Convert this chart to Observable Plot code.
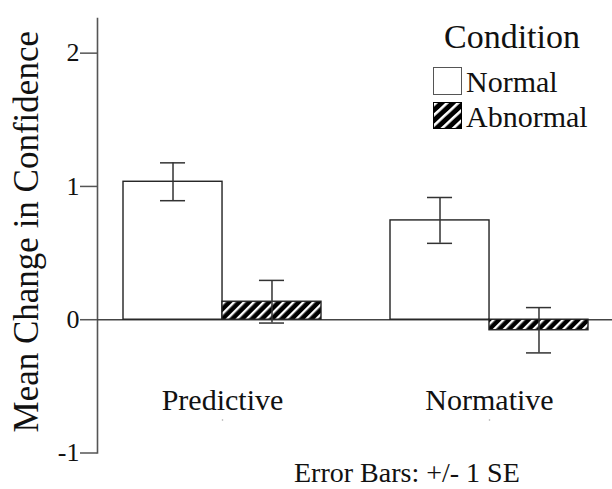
<!DOCTYPE html>
<html><head><meta charset="utf-8">
<script src="https://cdn.jsdelivr.net/npm/d3@7"></script>
<script src="https://cdn.jsdelivr.net/npm/@observablehq/plot@0.6"></script>
<style>
body{margin:0;background:#fff;}
#wrap{position:relative;width:612px;height:489px;font-family:"Liberation Serif","Times New Roman",Times,"DejaVu Serif",serif;color:#111;}
#chart{position:absolute;left:0;top:0;}
.abs{position:absolute;line-height:1;white-space:nowrap;}
#ltitle{left:412px;top:19.5px;width:200px;text-align:center;font-size:34px;}
.sw{position:absolute;left:433px;width:29px;box-sizing:border-box;}
#sw1{top:67px;height:28px;border:1.5px solid #555;background:#fff;}
#sw2{top:102px;height:27px;border:1.5px solid #000;}
.lt{font-size:30px;left:466px;}
#caption{left:294px;top:460px;font-size:28px;line-height:26px;}
</style></head><body>
<svg width="0" height="0" style="position:absolute"><defs>
<pattern id="hatch" patternUnits="userSpaceOnUse" width="7" height="7" patternTransform="rotate(45)">
<rect width="7" height="7" fill="#000"/><rect width="2.4" height="7" fill="#fff"/></pattern></defs></svg>
<div id="wrap">
  <div id="chart"></div>
  <div class="abs" id="ltitle"></div>
  <div class="sw" id="sw1"></div>
  <svg class="sw" id="sw2" viewBox="0 0 24 24" preserveAspectRatio="none"><rect width="24" height="24" fill="url(#hatch)"/></svg>
  <div class="abs lt" id="lt1" style="top:67px"></div>
  <div class="abs lt" id="lt2" style="top:102px"></div>
  <div class="abs" id="caption"></div>
</div>
<script>
const categories = ["Predictive", "Normative"];
const conditions = ["Normal", "Abnormal"];
const predictiveMeans = [1.035, 0.135];
const normativeMeans = [0.745, -0.079];
const predictiveSE = [0.142, 0.16];
const normativeSE = [0.172, 0.17];
const yTicks = [-1, 0, 1, 2];
const yLabel = "Mean Change in Confidence";
const legendTitle = "Condition";
const captionText = "Error Bars: +/- 1 SE";

const meansBy = [predictiveMeans, normativeMeans];
const seBy = [predictiveSE, normativeSE];
const rows = categories.flatMap((c, i) => conditions.map((k, j) => ({
  category: c, condition: k, mean: meansBy[i][j],
  lo: meansBy[i][j] - seBy[i][j], hi: meansBy[i][j] + seBy[i][j]
})));
const normalRows = rows.filter(d => d.condition === conditions[0]);
const abnormalRows = rows.filter(d => d.condition === conditions[1]);

const W = 612, H = 489, ML = 97, MR = 0, MT = 18, MB = 36.5;
const xOpts = {type: "band", domain: categories, paddingInner: 0.26, paddingOuter: 0.0926, align: 0.525};
const xs = Plot.scale({x: {...xOpts, range: [ML, W - MR]}});
const half = xs.bandwidth / 2;
const capW = 25;
const capIn = (half - capW) / 2;
const line = {stroke: "#333", strokeWidth: 1.5};

const chart = Plot.plot({
  width: W, height: H,
  marginLeft: ML, marginRight: MR, marginTop: MT, marginBottom: MB,
  style: {fontFamily: "'Liberation Serif', 'Times New Roman', Times, 'DejaVu Serif', serif", color: "#111", background: "transparent"},
  x: {...xOpts, axis: null},
  y: {domain: [-1, 2.26], axis: null},
  marks: [
    Plot.frame({anchor: "left", stroke: "#555", strokeWidth: 1.6}),
    Plot.axisY(yTicks, {tickSize: 17, tickPadding: 1, fontSize: 26, tickFormat: d => String(d), label: null, stroke: "#555", strokeWidth: 1.5, fill: "#111"}),
    Plot.text([yLabel], {frameAnchor: "left", rotate: -90, dx: -71, dy: -4, fontSize: 35, textAnchor: "middle", lineAnchor: "middle", fill: "#111"}),
    Plot.ruleY([0], {stroke: "#444", strokeWidth: 1.5}),
    Plot.barY(normalRows, {x: "category", y: "mean", insetRight: half, fill: "white", stroke: "#222", strokeWidth: 1.4}),
    Plot.barY(abnormalRows, {x: "category", y: "mean", insetLeft: half, fill: "url(#hatch)", stroke: "#222", strokeWidth: 1.4}),
    Plot.ruleX(normalRows, {x: "category", y1: "lo", y2: "hi", dx: -half / 2, ...line}),
    Plot.ruleX(abnormalRows, {x: "category", y1: "lo", y2: "hi", dx: half / 2, ...line}),
    Plot.tickY(normalRows, {x: "category", y: "lo", insetLeft: capIn, insetRight: half + capIn, ...line}),
    Plot.tickY(normalRows, {x: "category", y: "hi", insetLeft: capIn, insetRight: half + capIn, ...line}),
    Plot.tickY(abnormalRows, {x: "category", y: "lo", insetLeft: half + capIn, insetRight: capIn, ...line}),
    Plot.tickY(abnormalRows, {x: "category", y: "hi", insetLeft: half + capIn, insetRight: capIn, ...line}),
    Plot.axisX({anchor: "bottom", tickSize: 0, tickPadding: 0, label: null, fontSize: 30, dy: -64, fill: "#111"}),
    Plot.dot(categories, {x: d => d, frameAnchor: "bottom", dy: -33, r: 0.8, fill: "#aaa", stroke: null})
  ]
});
document.getElementById("chart").appendChild(chart);
document.getElementById("ltitle").textContent = legendTitle;
document.getElementById("lt1").textContent = conditions[0];
document.getElementById("lt2").textContent = conditions[1];
document.getElementById("caption").textContent = captionText;
</script>
</body></html>
